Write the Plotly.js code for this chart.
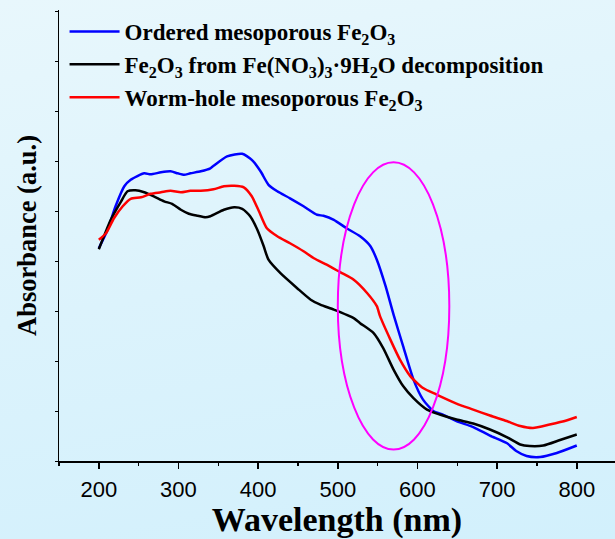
<!DOCTYPE html>
<html>
<head>
<meta charset="utf-8">
<script src="https://cdn.plot.ly/plotly-3.0.1.min.js"></script>
<style>
html,body{margin:0;padding:0;width:615px;height:539px;overflow:hidden;
background:linear-gradient(170deg,#e8f7fc 0%,#dcf3fc 50%,#d2f0fc 100%);}
#chart{width:615px;height:539px;}
</style>
</head>
<body>
<div id="chart"></div>
<script>
// Ordered mesoporous Fe2O3 (blue)
const blueX = [200,211,221,232,240,257,265,278,290,299,307,315,328,340,344,361,380,392,403,413,424,440,457,474,482,495,511,528,541,549,560,570,582,595,607,620,632,649,670,691,712,724,737,754,775,800];
const blueY = [4.26,4.63,5.10,5.50,5.63,5.76,5.74,5.78,5.80,5.76,5.73,5.76,5.80,5.86,5.91,6.10,6.15,6.03,5.80,5.53,5.40,5.26,5.10,4.93,4.91,4.83,4.66,4.50,4.30,4.03,3.50,2.93,2.30,1.63,1.23,1.00,0.93,0.80,0.68,0.51,0.36,0.20,0.10,0.08,0.16,0.31];
// Fe2O3 from Fe(NO3)3·9H2O decomposition (black)
const blackX = [200,215,228,236,246,257,269,282,292,303,313,324,334,340,357,370,380,390,399,407,413,428,449,466,478,495,520,528,545,557,570,582,595,612,628,649,670,691,712,729,741,758,779,800];
const blackY = [4.24,4.83,5.20,5.40,5.42,5.38,5.30,5.20,5.15,5.03,4.95,4.91,4.88,4.90,5.03,5.08,5.05,4.90,4.63,4.30,4.03,3.76,3.46,3.23,3.13,3.03,2.86,2.76,2.56,2.26,1.83,1.50,1.26,1.03,0.93,0.83,0.75,0.63,0.48,0.33,0.30,0.31,0.42,0.53];
// Worm-hole mesoporous Fe2O3 (red)
const redX = [200,209,219,230,240,253,265,278,290,303,315,328,344,357,370,382,392,401,411,424,440,457,470,486,503,520,537,549,553,566,578,591,607,624,649,670,691,712,729,745,766,787,800];
const redY = [4.43,4.56,4.86,5.10,5.25,5.28,5.35,5.38,5.41,5.38,5.41,5.41,5.44,5.50,5.51,5.48,5.30,5.00,4.66,4.50,4.36,4.20,4.06,3.93,3.78,3.63,3.36,3.10,2.90,2.43,2.03,1.70,1.46,1.33,1.15,1.03,0.91,0.80,0.70,0.66,0.73,0.81,0.88];

const names = [
  '<b>Ordered mesoporous Fe<sub>2</sub>O<sub>3</sub></b>',
  '<b>Fe<sub>2</sub>O<sub>3</sub> from Fe(NO<sub>3</sub>)<sub>3</sub>·9H<sub>2</sub>O decomposition</b>',
  '<b>Worm-hole mesoporous Fe<sub>2</sub>O<sub>3</sub></b>'
];
const xTickVals = [200,300,400,500,600,700,800];

const mk = (x,y,name,color,g) => ({x:x,y:y,name:name,type:'scatter',mode:'lines',
  line:{color:color,width:2.5,shape:'spline',smoothing:0.6},legendgroup:g});

const data = [
  mk(blueX,blueY,names[0],'#0000ff','a'),
  mk(blackX,blackY,names[1],'#000000','b'),
  mk(redX,redY,names[2],'#ff0000','c')
];

const layout = {
  width:615,height:539,
  paper_bgcolor:'rgba(0,0,0,0)',plot_bgcolor:'rgba(0,0,0,0)',
  margin:{l:58.5,r:0,t:10,b:77.5},
  showlegend:true,
  legend:{x:0.01,y:1.0,xanchor:'left',yanchor:'top',bgcolor:'rgba(0,0,0,0)',
    font:{family:'Liberation Serif, Times New Roman, serif',size:23,color:'#000'},
    tracegroupgap:0,itemwidth:50},
  xaxis:{range:[150,848],tickvals:xTickVals,ticks:'outside',ticklen:6,tickwidth:1.5,
    tickcolor:'#000',showline:true,linecolor:'#000',linewidth:1.5,showgrid:false,zeroline:false,
    ticklabelstandoff:2,
    tickfont:{family:'Liberation Sans, Arial, sans-serif',size:22,color:'#000'},
    minor:{dtick:50,tick0:150,ticks:'outside',ticklen:3,tickcolor:'#000',showgrid:false},
    title:{text:'<b>Wavelength (nm)</b>',font:{family:'Liberation Serif, Times New Roman, serif',size:34,color:'#000'},standoff:9}},
  yaxis:{range:[0,9.03],dtick:1,tick0:0,ticks:'outside',ticklen:3,tickcolor:'#000',showticklabels:false,
    showline:true,linecolor:'#000',linewidth:1.5,showgrid:false,zeroline:false,
    title:{text:'<b>Absorbance (a.u.)</b>',font:{family:'Liberation Serif, Times New Roman, serif',size:26.5,color:'#000'},standoff:10}},
  shapes:[{type:'circle',xref:'x',yref:'y',x0:500,x1:640,y0:0.23,y1:5.98,
    line:{color:'#ff00ff',width:2}}]
};
Plotly.newPlot('chart',data,layout,{displayModeBar:false,staticPlot:true});
</script>
</body>
</html>
